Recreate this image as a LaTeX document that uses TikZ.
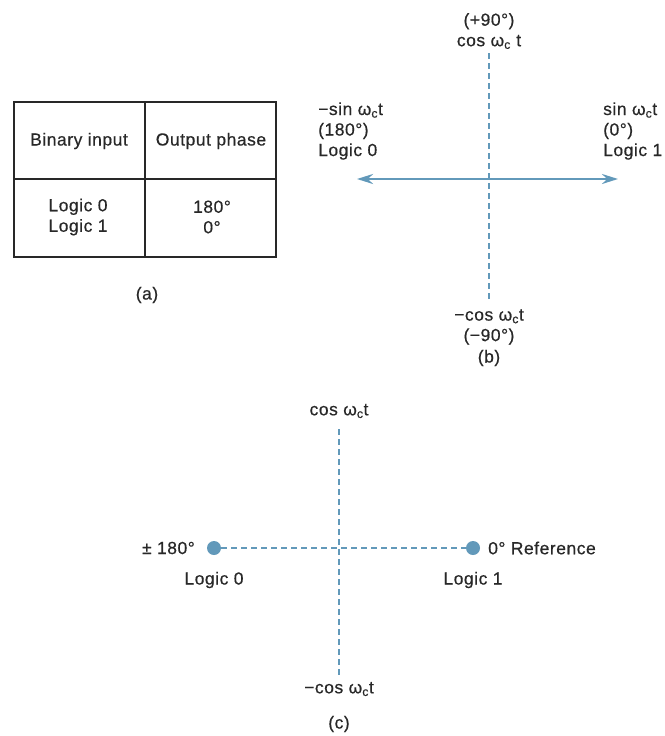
\documentclass[tikz,border=0pt]{standalone}
\usepackage{fontspec}
\newfontfamily\lblfont{Liberation Sans}[FakeBold=0.5,LetterSpace=3]
\usetikzlibrary{arrows.meta}
\definecolor{mblue}{RGB}{98,153,186}
\definecolor{ink}{RGB}{40,40,40}
\begin{document}
\begin{tikzpicture}[x=1pt,y=-1pt,
  lbl/.style={inner sep=0pt,text=ink,font=\lblfont\fontsize{17.5}{20.5}\selectfont},
  tbl/.style={draw=ink,line width=1.8pt},
  axis/.style={draw=mblue,line width=1.1pt,dash pattern=on 6pt off 4pt},
  dotc/.style={circle,fill=mblue,inner sep=0pt,minimum size=14pt}]
\useasboundingbox (0,0) rectangle (664,736);
% ---------- (a) table ----------
\draw[tbl] (14,102) rectangle (276,257);
\draw[tbl] (145,102) -- (145,257);
\draw[tbl] (14,179) -- (276,179);
\node[lbl] (h1) at (79,141) {Binary input};
\node[lbl] (h2) at (211,141) {Output phase};
\node[lbl,align=center] (c1) at (78,217) {Logic 0\\Logic 1};
\node[lbl,align=center] (c2) at (212,217) {180°\\0°};
\node[lbl] (capa) at (147,295) {(a)};
% ---------- (b) ----------
\node[lbl,align=center] (btop) at (489,31) {(+90°)\\cos ω\textsubscript{c} t};
\node[lbl,align=center] (bbot) at (489,327) {−cos ω\textsubscript{c}t\\(−90°)};
\node[lbl,align=left,anchor=west] (bleft) at (318,131) {−sin ω\textsubscript{c}t\\(180°)\\Logic 0};
\node[lbl,align=left,anchor=west] (bright) at (603,131) {sin ω\textsubscript{c}t\\(0°)\\Logic 1};
\node[lbl] (capb) at (489,358) {(b)};
\coordinate (bt) at (489,53);
\coordinate (bb) at (489,300);
\coordinate (bl) at (357,179);
\coordinate (br) at (618,179);
\draw[axis] (bt) -- (bb);
\draw[draw=mblue,line width=2.4pt,{Stealth[length=16pt,width=10pt]}-{Stealth[length=16pt,width=10pt]}] (bl) -- (br);
% ---------- (c) ----------
\node[lbl] (ctop) at (339,411) {cos ω\textsubscript{c}t};
\node[lbl] (cbot) at (339,689) {−cos ω\textsubscript{c}t};
\coordinate (ct) at (339,429);
\coordinate (cb) at (339,677);
\draw[axis] (ct) -- (cb);
\node[dotc] (d0) at (214,548) {};
\node[dotc] (d1) at (473,548) {};
\draw[axis] (d0) -- (d1);
\node[lbl,anchor=east] (pm) at (195,548) {± 180°};
\node[lbl,anchor=west] (ref) at (488,548) {0° Reference};
\node[lbl] (l0) at (214,580) {Logic 0};
\node[lbl] (l1) at (473,580) {Logic 1};
\node[lbl] (capc) at (339,724) {(c)};
\end{tikzpicture}
\end{document}
